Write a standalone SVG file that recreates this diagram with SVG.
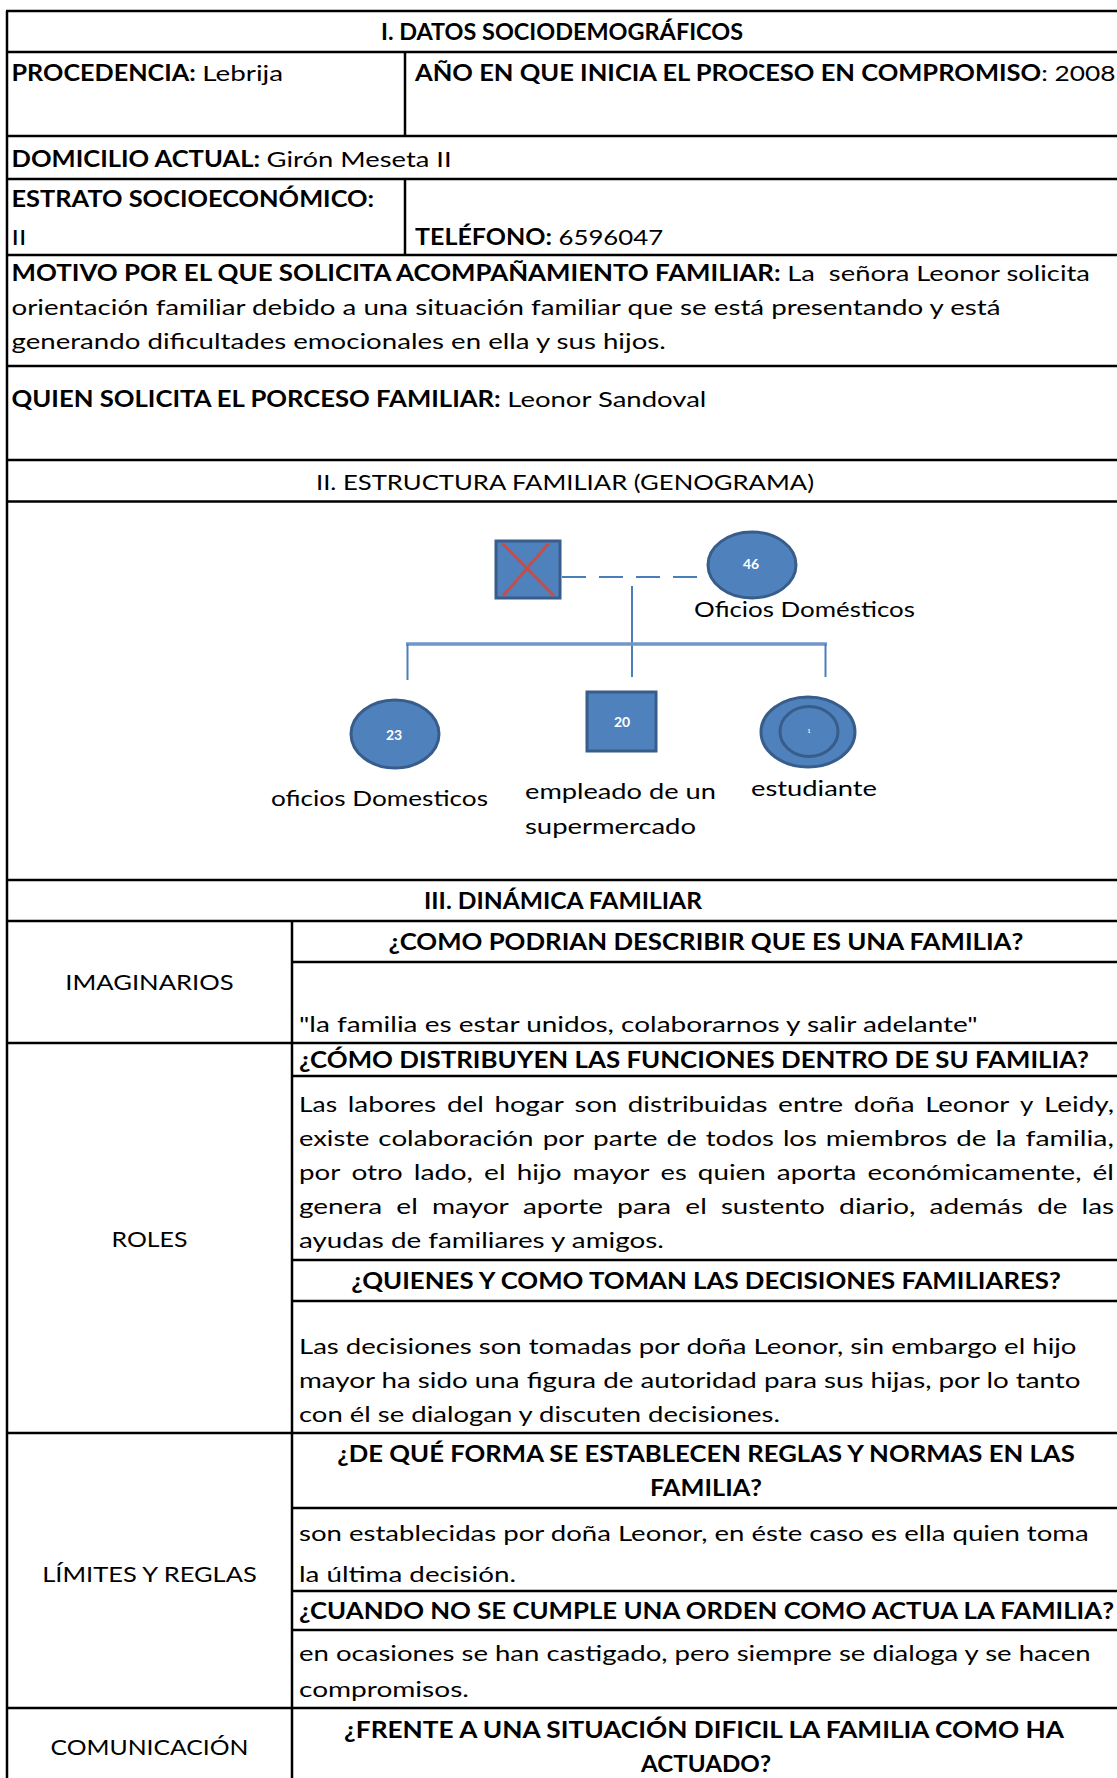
<svg xmlns="http://www.w3.org/2000/svg" width="1117" height="1778" viewBox="0 0 1117 1778">
<defs>
<style>
text{font-family:Lato,"Liberation Sans",sans-serif;font-size:22px;fill:#000}
.b{font-weight:bold}
.grid line{stroke:#000;stroke-width:2.5}
.num{font-size:14px;font-weight:bold;fill:#fff;text-anchor:middle}
.sym{fill:#4F81BD;stroke:#385D8A;stroke-width:3}
.link{stroke:#4A7EBB;stroke-width:2;fill:none}
.bar{stroke:#6F97C9;stroke-width:3.5;fill:none}
.dash{stroke:#4A7EBB;stroke-width:2.2;stroke-dasharray:24 13;fill:none}
.dead{stroke:#C0504D;stroke-width:3}
</style>
</defs>
<rect width="1117" height="1778" fill="#fff"/>

<g id="table-grid" class="grid">
<line x1="7" y1="11" x2="7" y2="1778"/>
<line x1="6" y1="11" x2="1120" y2="11"/>
<line x1="6" y1="52" x2="1120" y2="52"/>
<line x1="6" y1="136" x2="1120" y2="136"/>
<line x1="6" y1="179" x2="1120" y2="179"/>
<line x1="6" y1="255" x2="1120" y2="255"/>
<line x1="6" y1="366" x2="1120" y2="366"/>
<line x1="6" y1="460" x2="1120" y2="460"/>
<line x1="6" y1="501.5" x2="1120" y2="501.5"/>
<line x1="6" y1="880" x2="1120" y2="880"/>
<line x1="6" y1="921" x2="1120" y2="921"/>
<line x1="6" y1="1043" x2="1120" y2="1043"/>
<line x1="6" y1="1433" x2="1120" y2="1433"/>
<line x1="6" y1="1708" x2="1120" y2="1708"/>
<line x1="405" y1="52" x2="405" y2="136"/>
<line x1="405" y1="179" x2="405" y2="255"/>
<line x1="292" y1="921" x2="292" y2="1778"/>
<line x1="292" y1="962" x2="1120" y2="962"/>
<line x1="292" y1="1076" x2="1120" y2="1076"/>
<line x1="292" y1="1260" x2="1120" y2="1260"/>
<line x1="292" y1="1301" x2="1120" y2="1301"/>
<line x1="292" y1="1508" x2="1120" y2="1508"/>
<line x1="292" y1="1591" x2="1120" y2="1591"/>
<line x1="292" y1="1630" x2="1120" y2="1630"/>
</g>

<g id="sec1-title"><text class="b" x="381" y="39.5" textLength="362" lengthAdjust="spacingAndGlyphs">I. DATOS SOCIODEMOGRÁFICOS</text></g>
<g id="procedencia">
<text class="b" x="11.5" y="80.5" textLength="184.2" lengthAdjust="spacingAndGlyphs">PROCEDENCIA:</text>
<text x="202.3" y="80.5" textLength="80.8" lengthAdjust="spacingAndGlyphs">Lebrija</text>
</g>
<g id="anio">
<text class="b" x="415" y="80.5" textLength="626.2" lengthAdjust="spacingAndGlyphs">AÑO EN QUE INICIA EL PROCESO EN COMPROMISO</text>
<text x="1041.2" y="80.5" textLength="74.4" lengthAdjust="spacingAndGlyphs">: 2008</text>
</g>
<g id="domicilio">
<text class="b" x="11.5" y="166.5" textLength="248.5" lengthAdjust="spacingAndGlyphs">DOMICILIO ACTUAL:</text>
<text x="266.6" y="166.5" textLength="185.1" lengthAdjust="spacingAndGlyphs">Girón Meseta II</text>
</g>
<g id="estrato">
<text class="b" x="11.5" y="206.5" textLength="362.6" lengthAdjust="spacingAndGlyphs">ESTRATO SOCIOECONÓMICO:</text>
<text x="11.5" y="244.5" textLength="14.9" lengthAdjust="spacingAndGlyphs">II</text>
</g>
<g id="telefono">
<text class="b" x="415" y="244.5" textLength="136.9" lengthAdjust="spacingAndGlyphs">TELÉFONO:</text>
<text x="558.5" y="244.5" textLength="104.7" lengthAdjust="spacingAndGlyphs">6596047</text>
</g>
<g id="motivo">
<text class="b" x="11.5" y="281" textLength="769.1" lengthAdjust="spacingAndGlyphs">MOTIVO POR EL QUE SOLICITA ACOMPAÑAMIENTO FAMILIAR:</text>
<text x="787.2" y="281" textLength="302.7" lengthAdjust="spacingAndGlyphs" xml:space="preserve">La  señora Leonor solicita</text>
<text x="11.5" y="315" textLength="989" lengthAdjust="spacingAndGlyphs">orientación familiar debido a una situación familiar que se está presentando y está</text>
<text x="11.5" y="349" textLength="654.3" lengthAdjust="spacingAndGlyphs">generando dificultades emocionales en ella y sus hijos.</text>
</g>
<g id="quien">
<text class="b" x="11.5" y="407" textLength="489.2" lengthAdjust="spacingAndGlyphs">QUIEN SOLICITA EL PORCESO FAMILIAR:</text>
<text x="507.3" y="407" textLength="199" lengthAdjust="spacingAndGlyphs">Leonor Sandoval</text>
</g>
<g id="sec2-title"><text x="316" y="490" textLength="498" lengthAdjust="spacingAndGlyphs">II. ESTRUCTURA FAMILIAR (GENOGRAMA)</text></g>

<g id="genogram-connectors">
<line class="dash" x1="562" y1="577" x2="706" y2="577"/>
<line class="link" x1="632" y1="586" x2="632" y2="677"/>
<line class="bar" x1="406" y1="644" x2="827" y2="644"/>
<line class="link" x1="407.5" y1="644" x2="407.5" y2="680"/>
<line class="link" x1="825.5" y1="644" x2="825.5" y2="677"/>
</g>
<g id="padre">
<rect class="sym" x="496" y="541" width="64" height="57"/>
<line class="dead" x1="502" y1="543" x2="554" y2="596"/>
<line class="dead" x1="549" y1="543" x2="503" y2="596"/>
</g>
<g id="madre">
<ellipse class="sym" cx="752" cy="565" rx="44" ry="33"/>
<text class="num" x="751" y="569">46</text>
<text x="694" y="617" textLength="221" lengthAdjust="spacingAndGlyphs">Oficios Domésticos</text>
</g>
<g id="hija-23">
<ellipse class="sym" cx="395" cy="734" rx="44" ry="34"/>
<text class="num" x="394" y="740">23</text>
<text x="271" y="806" textLength="217" lengthAdjust="spacingAndGlyphs">oficios Domesticos</text>
</g>
<g id="hijo-20">
<rect class="sym" x="587" y="692" width="69" height="59"/>
<text class="num" x="622" y="727">20</text>
<text x="525" y="799" textLength="191" lengthAdjust="spacingAndGlyphs">empleado de un</text>
<text x="525" y="834" textLength="171" lengthAdjust="spacingAndGlyphs">supermercado</text>
</g>
<g id="hija-estudiante">
<ellipse class="sym" cx="808" cy="732" rx="47" ry="35"/>
<ellipse class="sym" cx="809" cy="731.5" rx="29" ry="25"/>
<text class="num" x="809" y="733" style="font-size:5px">1</text>
<text x="751" y="796" textLength="126" lengthAdjust="spacingAndGlyphs">estudiante</text>
</g>

<g id="sec3-title"><text class="b" x="424" y="909" textLength="278" lengthAdjust="spacingAndGlyphs">III. DINÁMICA FAMILIAR</text></g>

<g id="imaginarios">
<text x="65.3" y="990" textLength="168.4" lengthAdjust="spacingAndGlyphs">IMAGINARIOS</text>
<text class="b" x="388.6" y="950" textLength="634.8" lengthAdjust="spacingAndGlyphs">¿COMO PODRIAN DESCRIBIR QUE ES UNA FAMILIA?</text>
<text x="299" y="1032" textLength="678.7" lengthAdjust="spacingAndGlyphs">"la familia es estar unidos, colaborarnos y salir adelante"</text>
</g>

<g id="roles">
<text x="111.5" y="1247" textLength="75.9" lengthAdjust="spacingAndGlyphs">ROLES</text>
<text class="b" x="299" y="1068" textLength="790" lengthAdjust="spacingAndGlyphs">¿CÓMO DISTRIBUYEN LAS FUNCIONES DENTRO DE SU FAMILIA?</text>
<g id="roles-p1">
<text x="299" y="1112" textLength="38.06" lengthAdjust="spacingAndGlyphs">Las</text>
<text x="347.76" y="1112" textLength="88.44" lengthAdjust="spacingAndGlyphs">labores</text>
<text x="446.9" y="1112" textLength="36.93" lengthAdjust="spacingAndGlyphs">del</text>
<text x="494.53" y="1112" textLength="69.35" lengthAdjust="spacingAndGlyphs">hogar</text>
<text x="574.58" y="1112" textLength="42.57" lengthAdjust="spacingAndGlyphs">son</text>
<text x="627.85" y="1112" textLength="139.59" lengthAdjust="spacingAndGlyphs">distribuidas</text>
<text x="778.14" y="1112" textLength="65.05" lengthAdjust="spacingAndGlyphs">entre</text>
<text x="853.89" y="1112" textLength="60.65" lengthAdjust="spacingAndGlyphs">doña</text>
<text x="925.24" y="1112" textLength="83.96" lengthAdjust="spacingAndGlyphs">Leonor</text>
<text x="1019.9" y="1112" textLength="13.36" lengthAdjust="spacingAndGlyphs">y</text>
<text x="1043.96" y="1112" textLength="70.06" lengthAdjust="spacingAndGlyphs">Leidy,</text>

<text x="299" y="1146" textLength="70.33" lengthAdjust="spacingAndGlyphs">existe</text>
<text x="378.39" y="1146" textLength="155.23" lengthAdjust="spacingAndGlyphs">colaboración</text>
<text x="542.68" y="1146" textLength="41.33" lengthAdjust="spacingAndGlyphs">por</text>
<text x="593.07" y="1146" textLength="64.49" lengthAdjust="spacingAndGlyphs">parte</text>
<text x="666.62" y="1146" textLength="30.18" lengthAdjust="spacingAndGlyphs">de</text>
<text x="705.86" y="1146" textLength="68" lengthAdjust="spacingAndGlyphs">todos</text>
<text x="782.92" y="1146" textLength="33.84" lengthAdjust="spacingAndGlyphs">los</text>
<text x="825.82" y="1146" textLength="121.45" lengthAdjust="spacingAndGlyphs">miembros</text>
<text x="956.33" y="1146" textLength="30.18" lengthAdjust="spacingAndGlyphs">de</text>
<text x="995.57" y="1146" textLength="20.89" lengthAdjust="spacingAndGlyphs">la</text>
<text x="1025.52" y="1146" textLength="88.47" lengthAdjust="spacingAndGlyphs">familia,</text>

<text x="299" y="1180" textLength="41.33" lengthAdjust="spacingAndGlyphs">por</text>
<text x="351.41" y="1180" textLength="51.27" lengthAdjust="spacingAndGlyphs">otro</text>
<text x="413.76" y="1180" textLength="59.3" lengthAdjust="spacingAndGlyphs">lado,</text>
<text x="484.14" y="1180" textLength="21.45" lengthAdjust="spacingAndGlyphs">el</text>
<text x="516.67" y="1180" textLength="44.84" lengthAdjust="spacingAndGlyphs">hijo</text>
<text x="572.59" y="1180" textLength="76.91" lengthAdjust="spacingAndGlyphs">mayor</text>
<text x="660.58" y="1180" textLength="26.23" lengthAdjust="spacingAndGlyphs">es</text>
<text x="697.89" y="1180" textLength="67.91" lengthAdjust="spacingAndGlyphs">quien</text>
<text x="776.88" y="1180" textLength="79.47" lengthAdjust="spacingAndGlyphs">aporta</text>
<text x="867.43" y="1180" textLength="214.02" lengthAdjust="spacingAndGlyphs">económicamente,</text>
<text x="1092.53" y="1180" textLength="21.45" lengthAdjust="spacingAndGlyphs">él</text>

<text x="299" y="1214" textLength="83.19" lengthAdjust="spacingAndGlyphs">genera</text>
<text x="396.33" y="1214" textLength="21.45" lengthAdjust="spacingAndGlyphs">el</text>
<text x="431.92" y="1214" textLength="76.91" lengthAdjust="spacingAndGlyphs">mayor</text>
<text x="522.97" y="1214" textLength="80.03" lengthAdjust="spacingAndGlyphs">aporte</text>
<text x="617.14" y="1214" textLength="54.04" lengthAdjust="spacingAndGlyphs">para</text>
<text x="685.32" y="1214" textLength="21.45" lengthAdjust="spacingAndGlyphs">el</text>
<text x="720.91" y="1214" textLength="104.05" lengthAdjust="spacingAndGlyphs">sustento</text>
<text x="839.1" y="1214" textLength="76.35" lengthAdjust="spacingAndGlyphs">diario,</text>
<text x="929.59" y="1214" textLength="93.54" lengthAdjust="spacingAndGlyphs">además</text>
<text x="1037.27" y="1214" textLength="30.18" lengthAdjust="spacingAndGlyphs">de</text>
<text x="1081.59" y="1214" textLength="32.42" lengthAdjust="spacingAndGlyphs">las</text>

<text x="299" y="1248" textLength="364.8" lengthAdjust="spacingAndGlyphs">ayudas de familiares y amigos.</text>
</g>
<text class="b" x="351.15" y="1289" textLength="709.7" lengthAdjust="spacingAndGlyphs">¿QUIENES Y COMO TOMAN LAS DECISIONES FAMILIARES?</text>
<text x="299" y="1354" textLength="777.5" lengthAdjust="spacingAndGlyphs">Las decisiones son tomadas por doña Leonor, sin embargo el hijo</text>
<text x="299" y="1388" textLength="781.4" lengthAdjust="spacingAndGlyphs">mayor ha sido una figura de autoridad para sus hijas, por lo tanto</text>
<text x="299" y="1422" textLength="481" lengthAdjust="spacingAndGlyphs">con él se dialogan y discuten decisiones.</text>
</g>

<g id="limites">
<text x="42.25" y="1582" textLength="214.5" lengthAdjust="spacingAndGlyphs">LÍMITES Y REGLAS</text>
<text class="b" x="337.25" y="1462" textLength="737.5" lengthAdjust="spacingAndGlyphs">¿DE QUÉ FORMA SE ESTABLECEN REGLAS Y NORMAS EN LAS</text>
<text class="b" x="650" y="1496" textLength="112" lengthAdjust="spacingAndGlyphs">FAMILIA?</text>
<text x="299" y="1541" textLength="789.6" lengthAdjust="spacingAndGlyphs">son establecidas por doña Leonor, en éste caso es ella quien toma</text>
<text x="299" y="1582" textLength="217" lengthAdjust="spacingAndGlyphs">la última decisión.</text>
<text class="b" x="299" y="1619" textLength="815" lengthAdjust="spacingAndGlyphs">¿CUANDO NO SE CUMPLE UNA ORDEN COMO ACTUA LA FAMILIA?</text>
<text x="299" y="1661" textLength="791.6" lengthAdjust="spacingAndGlyphs">en ocasiones se han castigado, pero siempre se dialoga y se hacen</text>
<text x="299" y="1697" textLength="169.9" lengthAdjust="spacingAndGlyphs">compromisos.</text>
</g>

<g id="comunicacion">
<text x="50.5" y="1755" textLength="198" lengthAdjust="spacingAndGlyphs">COMUNICACIÓN</text>
<text class="b" x="344" y="1738" textLength="720" lengthAdjust="spacingAndGlyphs">¿FRENTE A UNA SITUACIÓN DIFICIL LA FAMILIA COMO HA</text>
<text class="b" x="641" y="1772" textLength="130" lengthAdjust="spacingAndGlyphs">ACTUADO?</text>
</g>
</svg>
